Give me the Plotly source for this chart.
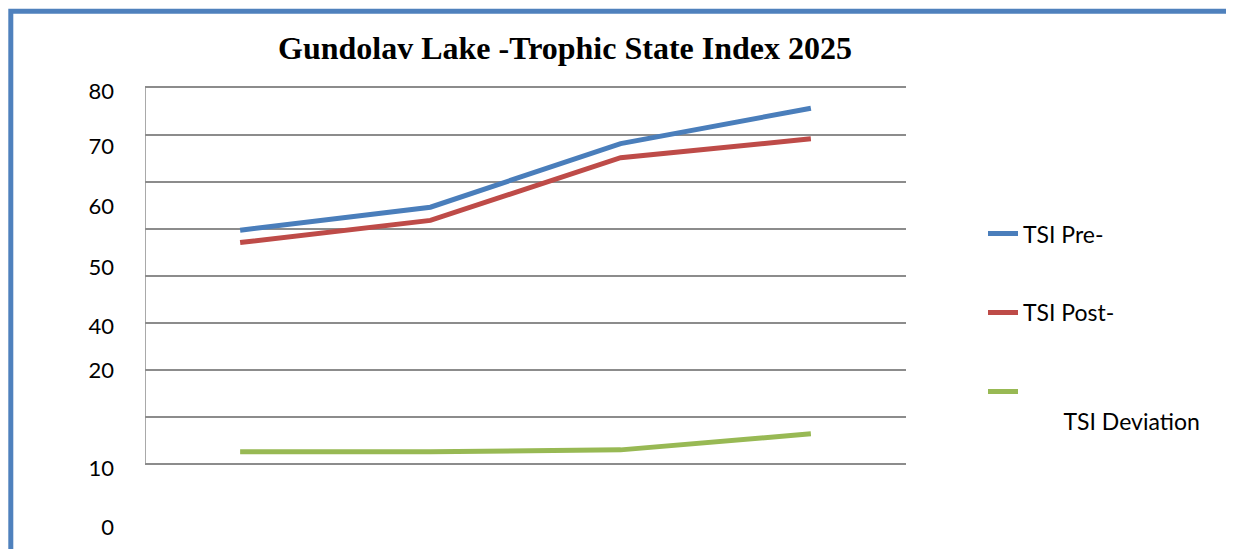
import plotly.graph_objects as go

# ---- data ----
categories = ["Sample 1", "Sample 2", "Sample 3", "Sample 4"]
tsi_pre = [49.7, 54.6, 68.1, 75.6]
tsi_post = [47.1, 51.8, 65.1, 69.1]
tsi_dev = [2.7, 2.7, 3.1, 6.5]

series_names = ["TSI Pre-", "TSI Post-", "\u00a0<br>\u00a0\u00a0\u00a0\u00a0\u00a0\u00a0\u00a0TSI Deviation"]
grid_values = [0, 10, 20, 30, 40, 50, 60, 70, 80]
tick_labels = ["80", "70", "60", "50", "40", "20", "10", "0"]
tick_label_pos = [79.1, 67.5, 54.8, 41.9, 29.3, 19.9, -0.8, -13.3]

title = "Gundolav Lake -Trophic State Index 2025"

colors = ["#4a7ebb", "#be4b48", "#98b954"]

fig = go.Figure()
for name, vals, col, grp in zip(series_names, [tsi_pre, tsi_post, tsi_dev], colors, ["a", "b", "c"]):
    fig.add_trace(go.Scatter(x=categories, y=vals, mode="lines", name=name,
                             line=dict(color=col, width=5), legendgroup=grp))

# invisible trace on the label axis
fig.add_trace(go.Scatter(x=categories, y=tsi_pre, yaxis="y2", mode="lines",
                         line=dict(width=0), showlegend=False, hoverinfo="skip", opacity=0))

ymin, ymax = -15.39, 80.74
W, H = 1226, 541
L, T, R, B = 137, 76, 328, 9
PW, PH = W - L - R, H - T - B


def px_x(px):
    return (px - L) / PW


def px_y(py):
    return (H - B - py) / PH


fig.update_layout(
    width=W, height=H,
    margin=dict(l=L, r=R, t=T, b=B),
    paper_bgcolor="white", plot_bgcolor="white",
    font=dict(family="Lato, Carlito, sans-serif", color="black"),
    title=dict(text=title, x=557/W, xref="container", xanchor="center",
               y=1-40/H, yref="container", yanchor="middle",
               font=dict(family="Liberation Serif, Times New Roman, serif", size=32, color="black", weight="bold")),
    xaxis=dict(range=[-0.5, 3.5], showgrid=False, showticklabels=False, zeroline=False,
               showline=False, ticks=""),
    yaxis=dict(range=[ymin, ymax], tickvals=grid_values, showticklabels=False,
               showgrid=True, gridcolor="#8c8c8c", gridwidth=1.5, zeroline=False,
               showline=False, ticks=""),
    yaxis2=dict(range=[ymin, ymax], overlaying="y", side="left", tickvals=tick_label_pos,
                ticktext=tick_labels, showgrid=False, zeroline=False, showline=False,
                ticks="", tickfont=dict(size=22, color="black"), ticklabelstandoff=30),
    legend=dict(x=px_x(975), xanchor="left", y=px_y(205), yanchor="top",
                font=dict(size=23, color="black"), tracegroupgap=46, valign="top",
                bgcolor="rgba(0,0,0,0)"),
    showlegend=True,
)

# left axis line (from 0 to 80 only)
fig.add_shape(type="line", xref="x", yref="y", x0=-0.5, x1=-0.5, y0=0, y1=80,
              line=dict(color="#8c8c8c", width=1.5))

# outer blue frame
fig.add_shape(type="rect", xref="paper", yref="paper",
              x0=px_x(2.8), x1=px_x(1222.5),
              y0=-0.2, y1=px_y(2.8),
              line=dict(color="#4f81bd", width=5), fillcolor="rgba(0,0,0,0)")

fig.write_html("out.html")
